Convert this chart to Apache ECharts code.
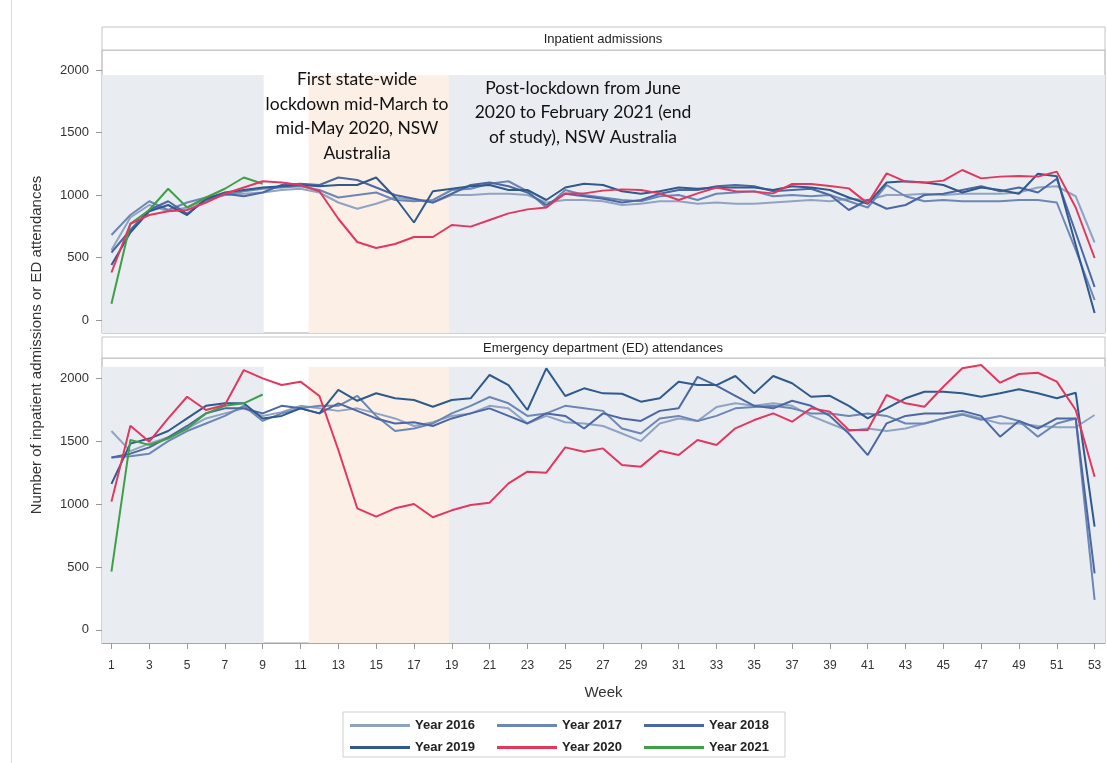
<!DOCTYPE html>
<html>
<head>
<meta charset="utf-8">
<script src="https://cdn.jsdelivr.net/npm/echarts@6/dist/echarts.min.js"></script>
<style>html,body{margin:0;padding:0;background:#fff}#c{width:1107px;height:763px}</style>
</head>
<body>
<div id="c"></div>
<script>
// ---------- DATA ----------
const weeks = Array.from({length:53}, (_, i) => i + 1);
const xTickLabels = [1,3,5,7,9,11,13,15,17,19,21,23,25,27,29,31,33,35,37,39,41,43,45,47,49,51,53];
const yTickLabels = [0,500,1000,1500,2000];
const years = ['Year 2016','Year 2017','Year 2018','Year 2019','Year 2020','Year 2021'];

// Inpatient admissions
const ip2016 = [560,820,920,870,900,960,1000,1010,1020,1040,1050,1020,940,890,930,980,960,940,1000,
  1000,1010,1010,1000,940,960,960,950,920,930,950,950,930,940,930,930,940,950,
  960,950,970,960,1000,1000,1010,1000,1010,1010,1010,1020,1060,1070,990,620];
const ip2017 = [680,840,950,880,940,980,1000,1030,1050,1060,1070,1040,980,1000,1020,960,950,960,1040,
  1050,1090,1110,1030,900,1040,1000,980,960,950,990,1000,960,1010,1020,1030,990,1000,
  990,1000,950,900,1080,990,950,960,950,950,950,960,960,940,560,160];
const ip2018 = [540,720,880,950,850,960,1010,990,1020,1080,1090,1080,1140,1120,1060,1000,970,940,1010,
  1080,1100,1070,1020,920,1010,990,970,940,960,1010,1040,1040,1070,1080,1070,1030,1040,
  1050,1000,880,960,890,920,1000,1010,1040,1070,1030,1060,1020,1130,700,264];
const ip2019 = [440,700,870,920,840,970,1020,1040,1060,1070,1080,1070,1080,1080,1140,980,780,1030,1050,
  1070,1080,1040,1040,960,1060,1090,1080,1030,1010,1030,1060,1050,1060,1060,1060,1040,1070,
  1060,1040,980,930,1100,1110,1100,1080,1020,1060,1040,1010,1170,1150,600,56];
const ip2020 = [380,770,840,870,880,940,1010,1060,1110,1100,1080,1030,810,624,576,608,664,664,760,
  747,800,853,885,900,1013,1013,1035,1045,1040,1013,960,1013,1060,1030,1027,1013,1088,
  1088,1072,1053,933,1173,1107,1099,1115,1200,1133,1147,1152,1147,1187,900,496];
const ip2021 = [130,770,880,1050,900,980,1050,1140,1090];

// Emergency department attendances
const ed2016 = [1580,1420,1480,1530,1600,1680,1720,1760,1700,1730,1780,1760,1740,1760,1720,1680,1620,1650,1700,
  1720,1780,1760,1640,1700,1650,1640,1620,1560,1500,1640,1680,1660,1770,1800,1780,1800,1780,
  1700,1640,1580,1600,1580,1600,1640,1680,1720,1680,1640,1640,1620,1610,1610,1707];
const ed2017 = [1370,1380,1400,1500,1580,1640,1700,1780,1660,1720,1760,1780,1780,1860,1700,1580,1600,1640,1720,
  1780,1850,1800,1700,1720,1780,1760,1740,1600,1560,1680,1700,1660,1700,1760,1770,1780,1760,
  1720,1720,1700,1720,1700,1640,1640,1680,1710,1670,1700,1660,1535,1640,1680,238];
const ed2018 = [1370,1400,1450,1530,1620,1720,1760,1760,1720,1780,1760,1720,1800,1740,1680,1640,1650,1620,1680,
  1720,1760,1700,1640,1720,1700,1600,1720,1680,1660,1740,1760,2010,1940,1860,1780,1760,1820,
  1780,1700,1560,1389,1641,1700,1720,1720,1740,1700,1535,1660,1600,1680,1680,450];
const ed2019 = [1160,1480,1520,1580,1680,1780,1800,1800,1680,1700,1760,1720,1906,1820,1880,1840,1826,1773,1826,
  1840,2025,1945,1747,2078,1858,1919,1879,1876,1813,1840,1972,1945,1945,2017,1879,2017,1959,
  1852,1860,1780,1681,1760,1840,1892,1892,1880,1852,1880,1911,1880,1840,1884,820];
const ed2020 = [1019,1622,1495,1681,1852,1747,1786,2064,1998,1945,1972,1858,1429,966,900,966,1000,895,950,
  992,1011,1164,1257,1249,1450,1416,1442,1310,1297,1424,1390,1509,1469,1601,1667,1720,1654,
  1760,1734,1588,1588,1866,1800,1773,1932,2078,2104,1964,2033,2043,1972,1747,1217];
const ed2021 = [463,1509,1470,1520,1600,1720,1780,1800,1870];

// Background periods (weeks)
const prePeriod = [0.5, 9.05];
const lockdownPeriod = [11.43, 18.85];
const postPeriod = [18.85, 53.55];
const bandTopIP = 1960;
const bandTopED = 2090;

const colors = ['#90a3c3','#6d87b4','#4d67a3','#2f5a8b','#e2375f','#3f9f48'];

// ---------- BUILD ----------
function pts(arr){ return arr.map((v,i)=>[weeks[i], v]); }
const ipData = [ip2016, ip2017, ip2018, ip2019, ip2020, ip2021];
const edData = [ed2016, ed2017, ed2018, ed2019, ed2020, ed2021];

function bands(top){
  const grey = {color:'#e9edf2'};
  const orange = {color:'#fcefe6'};
  return {
    silent: true,
    data: [
      [{xAxis: prePeriod[0], yAxis: -104, itemStyle: grey}, {xAxis: prePeriod[1], yAxis: top}],
      [{xAxis: lockdownPeriod[0], yAxis: -104, itemStyle: orange}, {xAxis: lockdownPeriod[1], yAxis: top}],
      [{xAxis: postPeriod[0], yAxis: -104, itemStyle: grey}, {xAxis: postPeriod[1], yAxis: top}]
    ]
  };
}

const series = [];
years.forEach((name, k) => {
  const s1 = {name, type:'line', xAxisIndex:0, yAxisIndex:0, data: pts(ipData[k]),
    symbol:'none', lineStyle:{width:2, color:colors[k]}, itemStyle:{color:colors[k]}, z: 3 + (k===4?2:0)};
  const s2 = {name, type:'line', xAxisIndex:1, yAxisIndex:1, data: pts(edData[k]),
    symbol:'none', lineStyle:{width:2, color:colors[k]}, itemStyle:{color:colors[k]}, z: 3 + (k===4?2:0)};
  if (k === 0) { s1.markArea = bands(bandTopIP); s2.markArea = bands(bandTopED); }
  series.push(s1, s2);
});

const yAxisCommon = {
  type:'value', min:-104, max:2160,
  axisLine:{show:false}, splitLine:{show:false},
  axisTick:{show:true, length:6, lineStyle:{color:'#999'}, customValues: yTickLabels},
  axisLabel:{color:'#333', fontSize:13, fontFamily:'Liberation Sans, Arial', margin:13,
    customValues: yTickLabels, formatter: v => String(v)}
};

const legendCommon = {
  icon:'rect', itemWidth:60, itemHeight:3, itemGap:22, padding:0,
  textStyle:{color:'#222', fontSize:13, fontFamily:'Liberation Sans, Arial', fontWeight:'bold'},
  selectedMode:false
};

const chart = echarts.init(document.getElementById('c'));
chart.setOption({
  animation:false,
  backgroundColor:'#fff',
  grid:[
    {left:102, top:50, width:1003, height:283, show:true, borderColor:'#a6a6a6', borderWidth:1, backgroundColor:'#fff'},
    {left:102, top:358, width:1003, height:285, show:true, borderColor:'#a6a6a6', borderWidth:1, backgroundColor:'#fff'}
  ],
  xAxis:[
    {gridIndex:0, type:'value', min:0.5, max:53.55, splitLine:{show:false}, axisLine:{show:false},
      axisTick:{show:false}, axisLabel:{show:false}},
    {gridIndex:1, type:'value', min:0.5, max:53.55, splitLine:{show:false},
      axisLine:{show:true, onZero:false, lineStyle:{color:'#a6a6a6', width:1}},
      axisTick:{show:true, length:6, lineStyle:{color:'#999'}, customValues: xTickLabels},
      axisLabel:{color:'#333', fontSize:12, fontFamily:'Liberation Sans, Arial', margin:17, customValues: xTickLabels},
      name:'Week', nameLocation:'middle', nameGap:42,
      nameTextStyle:{color:'#333', fontSize:15, fontFamily:'Liberation Sans, Arial'}}
  ],
  yAxis:[
    Object.assign({gridIndex:0}, yAxisCommon),
    Object.assign({gridIndex:1}, yAxisCommon)
  ],
  legend:[
    Object.assign({data:years.slice(0,3), left:350, top:719}, legendCommon),
    Object.assign({data:years.slice(3,6), left:350, top:741}, legendCommon)
  ],
  graphic:[
    {type:'line', shape:{x1:11.5, y1:0, x2:11.5, y2:763}, style:{stroke:'#d9d9d9', lineWidth:1}, silent:true},
    {type:'rect', shape:{x:102, y:27, width:1003, height:23}, style:{fill:'#fff', stroke:'#c4c4c4', lineWidth:1}, silent:true},
    {type:'text', style:{text:'Inpatient admissions', x:603, y:39, align:'center', verticalAlign:'middle', fill:'#222', fontSize:13, fontFamily:'Liberation Sans, Arial'}, silent:true},
    {type:'rect', shape:{x:102, y:337, width:1003, height:21}, style:{fill:'#fff', stroke:'#c4c4c4', lineWidth:1}, silent:true},
    {type:'text', style:{text:'Emergency department (ED) attendances', x:603, y:348, align:'center', verticalAlign:'middle', fill:'#222', fontSize:13, fontFamily:'Liberation Sans, Arial'}, silent:true},
    {type:'text', x:37, y:345, rotation:Math.PI/2, style:{text:'Number of inpatient admissions or ED attendances', x:0, y:0, align:'center', verticalAlign:'middle', fill:'#333', fontSize:15, fontFamily:'Liberation Sans, Arial'}, silent:true},
    {type:'text', z:10, style:{text:'First state-wide\nlockdown mid-March to\nmid-May 2020, NSW\nAustralia', x:357, y:67, align:'center', verticalAlign:'top', lineHeight:24.7, fill:'#111', fontSize:17.5, fontFamily:'Lato, Open Sans'}, silent:true},
    {type:'text', z:10, style:{text:'Post-lockdown from June\n2020 to February 2021 (end\nof study), NSW Australia', x:583, y:76, align:'center', verticalAlign:'top', lineHeight:24.5, fill:'#111', fontSize:17.5, fontFamily:'Lato, Open Sans'}, silent:true},
    {type:'rect', shape:{x:343, y:712, width:442, height:45}, style:{fill:'none', stroke:'#cfcfcf', lineWidth:1}, silent:true}
  ],
  series
});
</script>
</body>
</html>
